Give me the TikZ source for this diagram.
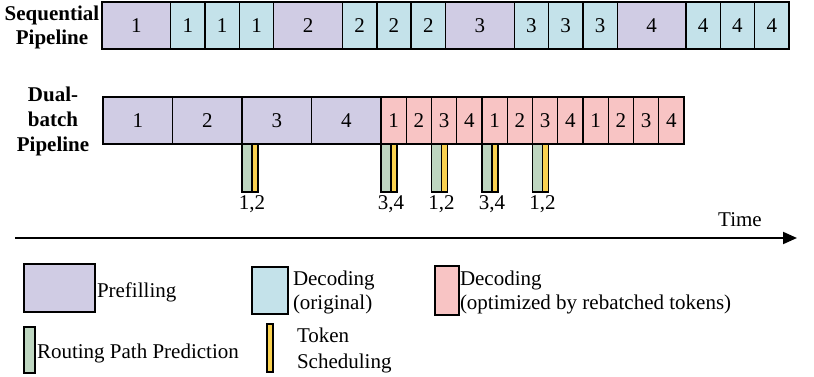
\documentclass[tikz,border=0pt]{standalone}
\usepackage{fontspec}
\setmainfont{Liberation Serif}
\usetikzlibrary{arrows.meta}
\definecolor{pre}{RGB}{208,204,228}
\definecolor{dec}{RGB}{196,226,234}
\definecolor{opt}{RGB}{248,196,196}
\definecolor{rpp}{RGB}{190,214,192}
\definecolor{tsc}{RGB}{250,210,80}
\begin{document}
\begin{tikzpicture}[x=1pt,y=-1pt,
  txt/.style={font=\fontsize{21}{24}\selectfont, inner sep=0pt, outer sep=0pt},
  rowlabel/.style={font=\fontsize{21}{24}\selectfont\bfseries, align=center, inner sep=0pt},
  box/.style={draw=black, line width=1.4pt, inner sep=0pt, outer sep=0pt, anchor=north west,
    font=\fontsize{21}{24}\selectfont},
  bar/.style={draw=black, line width=1.2pt, inner sep=0pt, outer sep=0pt, anchor=north west,
    minimum height=48pt},
  greenbar/.style={bar, fill=rpp, minimum width=10pt},
  yellowbar/.style={bar, fill=tsc, minimum width=6pt},
  barlabel/.style={txt, anchor=base}
]
\useasboundingbox (0,0) rectangle (814,377);

% ---- Sequential pipeline ----
\node[rowlabel] (seqlab) at (52,27.5) {Sequential\\Pipeline};
\foreach \i in {0,...,3}{
  \pgfmathtruncatemacro{\lab}{\i+1}
  \node[box, fill=pre, minimum width=68.7pt, minimum height=47pt] (sp\i) at ({102+\i*171.75},2) {\lab};
  \foreach \j in {0,1,2}{
    \node[box, fill=dec, minimum width=34.35pt, minimum height=47pt] (sd\i\j) at ({102+\i*171.75+68.7+\j*34.35},2) {\lab};
  }
}

% ---- Dual-batch pipeline ----
\node[rowlabel, font=\fontsize{21}{25}\selectfont\bfseries] (duallab) at (53,121) {Dual-\\batch\\Pipeline};
\foreach \i in {0,...,3}{
  \pgfmathtruncatemacro{\lab}{\i+1}
  \node[box, fill=pre, minimum width=69.5pt, minimum height=47pt] (dp\i) at ({103+\i*69.5},97) {\lab};
}
\foreach \k in {0,...,11}{
  \pgfmathtruncatemacro{\lab}{mod(\k,4)+1}
  \node[box, fill=opt, minimum width=25.25pt, minimum height=47pt] (do\k) at ({381+\k*25.25},97) {\lab};
}

% ---- routing / scheduling bars ----
\node[greenbar] (g1) at (dp2.south west) {};
\node[yellowbar] (y1) at (g1.north east) {};
\node[barlabel] (l1) at ([yshift=-17pt]g1.south east) {1,2};

\node[greenbar] (g2) at (do0.south west) {};
\node[yellowbar] (y2) at (g2.north east) {};
\node[barlabel] (l2) at ([yshift=-17pt]g2.south east) {3,4};

\node[greenbar] (g3) at (do2.south west) {};
\node[yellowbar] (y3) at (g3.north east) {};
\node[barlabel] (l3) at ([yshift=-17pt]g3.south east) {1,2};

\node[greenbar] (g4) at (do4.south west) {};
\node[yellowbar] (y4) at (g4.north east) {};
\node[barlabel] (l4) at ([yshift=-17pt]g4.south east) {3,4};

\node[greenbar] (g5) at (do6.south west) {};
\node[yellowbar] (y5) at (g5.north east) {};
\node[barlabel] (l5) at ([yshift=-17pt]g5.south east) {1,2};

% ---- time axis ----
\coordinate (tstart) at (15,238);
\coordinate (tend) at (797,238);
\draw[line width=2pt, -{Triangle[length=14pt,width=12pt]}] (tstart) -- (tend);
\node[txt, anchor=base] (time) at (740,226) {Time};

% ---- legend ----
\node[box, fill=pre, minimum width=71pt, minimum height=48pt] (legpre) at (24,264) {};
\node[txt, anchor=base west] (legpret) at (97,297) {Prefilling};

\node[box, fill=dec, minimum width=36pt, minimum height=47pt] (legdec) at (252,267) {};
\node[txt, anchor=base west] (legdect1) at (293,285) {Decoding};
\node[txt, anchor=base west] (legdect2) at (293,309) {(original)};

\node[box, fill=opt, minimum width=24pt, minimum height=49pt] (legopt) at (435,266) {};
\node[txt, anchor=base west] (legoptt1) at (460,285) {Decoding};
\node[txt, anchor=base west] (legoptt2) at (460,309) {(optimized by rebatched tokens)};

\node[bar, fill=rpp, minimum width=11pt, minimum height=46pt] (legrpp) at (24,327) {};
\node[txt, anchor=base west] (legrppt) at (37,358) {Routing Path Prediction};

\node[bar, fill=tsc, minimum width=6pt, minimum height=48pt] (legtsc) at (267,324) {};
\node[txt, anchor=base west] (legtsct1) at (297,342) {Token};
\node[txt, anchor=base west] (legtsct2) at (297,368) {Scheduling};
\end{tikzpicture}
\end{document}
